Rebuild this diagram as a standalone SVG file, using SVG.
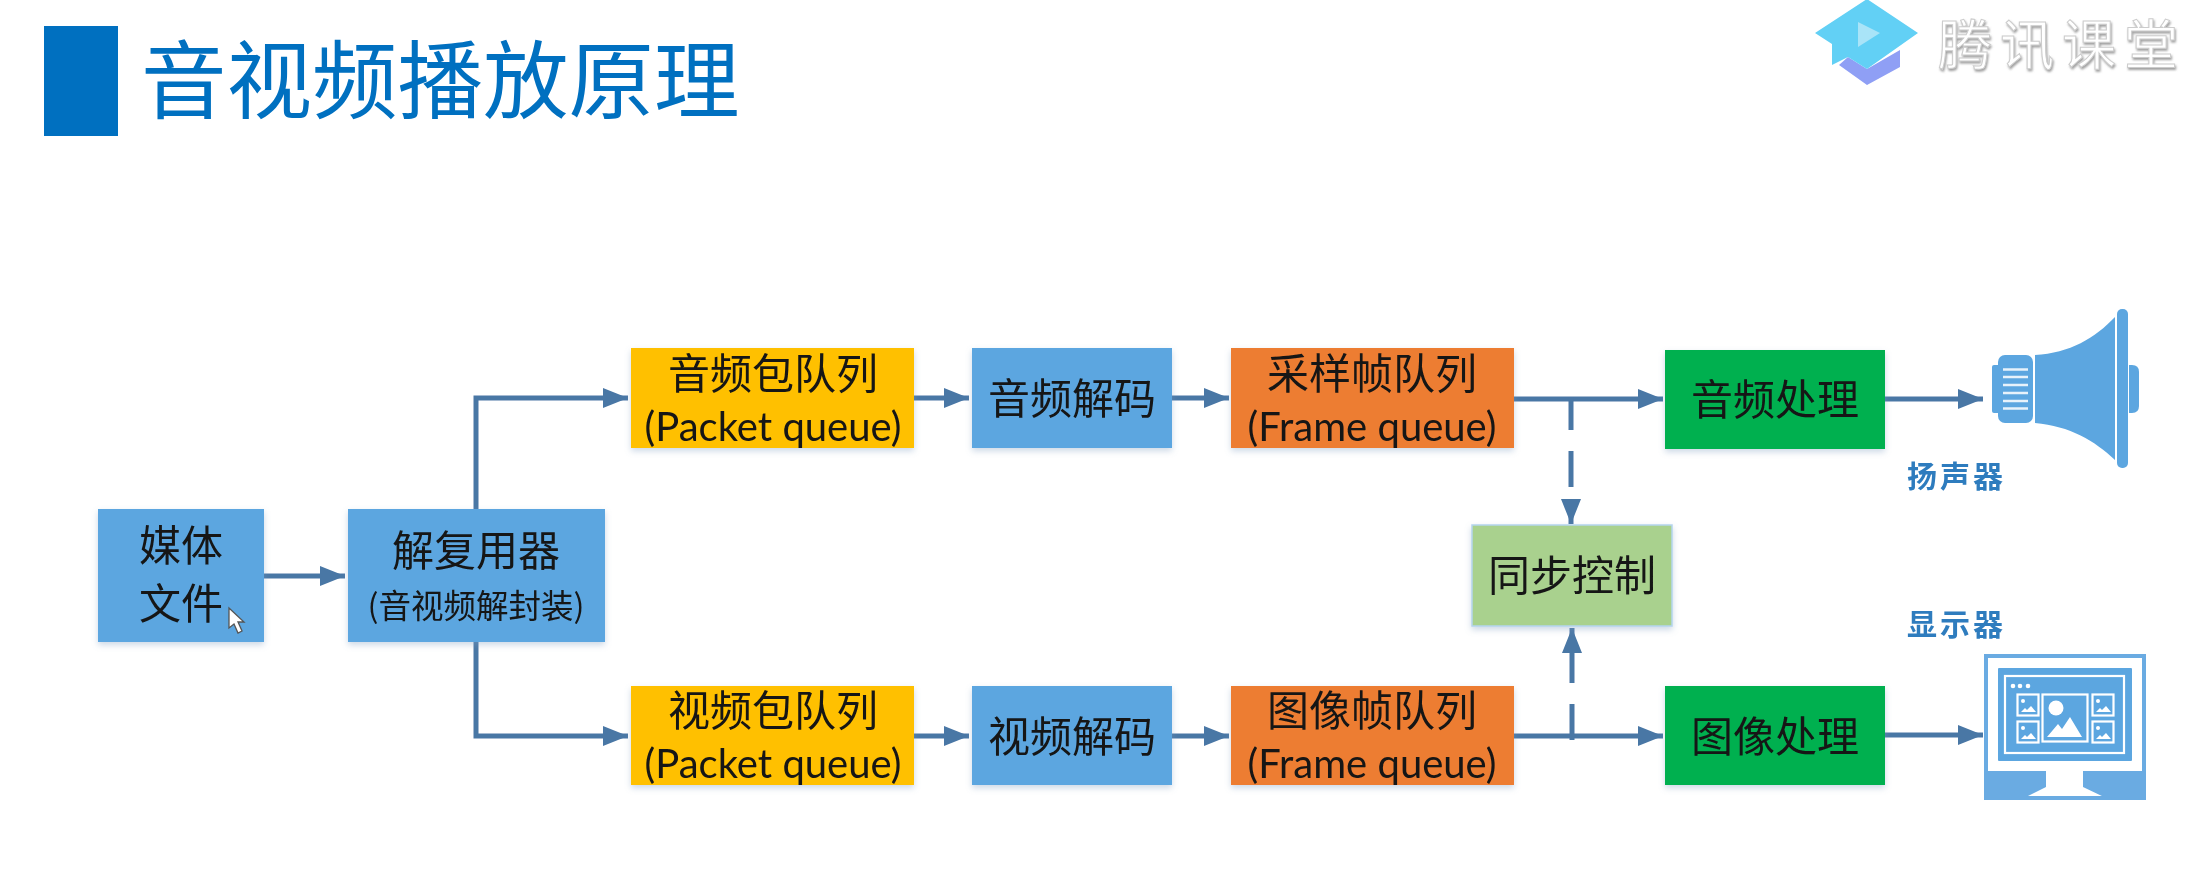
<svg xmlns="http://www.w3.org/2000/svg" width="2210" height="886" viewBox="0 0 2210 886">
<style>
.box{filter:url(#sh)}
.b{fill:#5CA6E0}.y{fill:#FFC000}.o{fill:#ED7D31}.g{fill:#00B050}.s{fill:#A9D18E;stroke:#B5D5EE;stroke-width:1.5}
.t{font-family:"Noto Sans CJK SC","Liberation Sans",sans-serif;font-size:42px;fill:#141414;text-anchor:middle;font-weight:400;filter:url(#soft)}
.p{font-family:Lato,"Liberation Sans",sans-serif;font-size:40px;fill:#141414;text-anchor:middle;filter:url(#soft)}
.sm{font-size:32.5px}
.lab{font-family:"Noto Sans CJK SC",sans-serif;font-size:30px;font-weight:700;fill:#2E7CBE;letter-spacing:3px;filter:url(#soft)}
.c{fill:none;stroke:#4A77A5;stroke-width:5}
.w{fill:none;stroke:#fff;stroke-width:2.2}
.i{fill:#5CA6E0}
</style>
<defs>
<filter id="sh" x="-10%" y="-10%" width="120%" height="125%"><feDropShadow dx="0" dy="3" stdDeviation="3" flood-color="#7f9fc0" flood-opacity=".4"/></filter>
<filter id="soft" x="-5%" y="-10%" width="110%" height="120%"><feGaussianBlur stdDeviation=".6"/></filter>
<filter id="ls" x="-5%" y="-5%" width="110%" height="115%"><feDropShadow dx="1" dy="2" stdDeviation="1.2" flood-color="#888" flood-opacity=".8"/></filter>
<marker id="a" markerUnits="userSpaceOnUse" markerWidth="26" markerHeight="20" refX="25" refY="10" orient="auto"><path d="M0 0L25 10L0 20Z" fill="#4A77A5"/></marker>
<g id="tile"><rect x=".5" y=".5" width="21" height="21" class="w"/><circle cx="6" cy="7" r="2" fill="#fff"/><path d="M4 18l4-4 2 2 4-4 5 6z" fill="#fff"/></g>
</defs>

<g id="title">
<rect x="44" y="26" width="74" height="110" fill="#0070C0"/>
<text x="141" y="112" font-family="Noto Sans CJK SC,sans-serif" font-size="85.5" fill="#0070C0" font-weight="400" filter="url(#soft)">音视频播放原理</text>
</g>

<g id="logo" filter="url(#soft)">
<path d="M1839 65L1848 57L1867 69L1900 50V67L1867 85Z" fill="#8F9FF5"/>
<path d="M1815 33L1867 -1L1918 33L1867 69L1848 57L1832 65V44Z" fill="#62D0F5"/>
<path d="M1858 22L1880 33L1858 47Z" fill="#A9E4F8"/>
<text x="1938" y="65" font-family="Noto Sans CJK SC,sans-serif" font-size="54" letter-spacing="8" fill="#fff" stroke="#ccc" stroke-width="1" filter="url(#ls)">腾讯课堂</text>
</g>

<g id="connectors" filter="url(#soft)">
<path class="c" d="M264 576H345" marker-end="url(#a)"/>
<path class="c" d="M476 509V398H628" marker-end="url(#a)"/>
<path class="c" d="M476 642V736H628" marker-end="url(#a)"/>
<path class="c" d="M913 398H969" marker-end="url(#a)"/>
<path class="c" d="M913 736H969" marker-end="url(#a)"/>
<path class="c" d="M1172 398H1229" marker-end="url(#a)"/>
<path class="c" d="M1172 736H1229" marker-end="url(#a)"/>
<path class="c" d="M1513 399H1663" marker-end="url(#a)"/>
<path class="c" d="M1513 736H1663" marker-end="url(#a)"/>
<path class="c" d="M1885 399H1983" marker-end="url(#a)"/>
<path class="c" d="M1885 735H1983" marker-end="url(#a)"/>
<path class="c" stroke-dasharray="33 21 36 12" d="M1571 397V524" marker-end="url(#a)"/>
<path class="c" stroke-dasharray="36 21 60" d="M1572 740V628" marker-end="url(#a)"/>
</g>

<g id="media-file"><rect class="box b" x="98" y="509" width="166" height="133"/>
<text class="t" x="181" y="561">媒体</text><text class="t" x="181" y="619">文件</text>
<path d="M229 608V628L234 624L238 633L242 631L238 622H244Z" fill="#fff" stroke="#555" stroke-width="1.3"/></g>
<g id="demuxer"><rect class="box b" x="348" y="509" width="257" height="133"/>
<text class="t" x="476" y="566">解复用器</text><text class="t sm" x="476" y="618">(音视频解封装)</text></g>
<g id="audio-packet"><rect class="box y" x="631" y="348" width="283" height="100"/>
<text class="t" x="773" y="389">音频包队列</text><text class="p" x="773" y="441">(Packet queue)</text></g>
<g id="audio-decode"><rect class="box b" x="972" y="348" width="200" height="100"/>
<text class="t" x="1072" y="414">音频解码</text></g>
<g id="sample-frame"><rect class="box o" x="1231" y="348" width="283" height="100"/>
<text class="t" x="1372" y="389">采样帧队列</text><text class="p" x="1372" y="441">(Frame queue)</text></g>
<g id="audio-proc"><rect class="box g" x="1665" y="350" width="220" height="99"/>
<text class="t" x="1775" y="415">音频处理</text></g>
<g id="sync"><rect class="box s" x="1472" y="525" width="200" height="101"/>
<text class="t" x="1572" y="591">同步控制</text></g>
<g id="video-packet"><rect class="box y" x="631" y="686" width="283" height="99"/>
<text class="t" x="773" y="726">视频包队列</text><text class="p" x="773" y="778">(Packet queue)</text></g>
<g id="video-decode"><rect class="box b" x="972" y="686" width="200" height="99"/>
<text class="t" x="1072" y="752">视频解码</text></g>
<g id="image-frame"><rect class="box o" x="1231" y="686" width="283" height="99"/>
<text class="t" x="1372" y="726">图像帧队列</text><text class="p" x="1372" y="778">(Frame queue)</text></g>
<g id="image-proc"><rect class="box g" x="1665" y="686" width="220" height="99"/>
<text class="t" x="1775" y="752">图像处理</text></g>

<g id="speaker">
<rect class="i" x="1992" y="365" width="8" height="48" rx="2"/>
<rect class="i" x="1998" y="355" width="35" height="68" rx="7"/>
<path class="i" d="M2035 355C2070 353 2095 338 2115 317V460C2095 441 2070 426 2035 423Z"/>
<rect class="i" x="2117" y="309" width="11" height="159" rx="5"/>
<path class="i" d="M2129 365H2132Q2139 365 2139 372V406Q2139 413 2132 413H2129Z"/>
<path d="M2003 369.5H2028M2003 377H2028M2003 385H2028M2003 393H2028M2003 401H2028M2003 408.5H2028" stroke="#fff" stroke-width="2.6" fill="none" opacity=".85"/>
<text class="lab" x="1907" y="487">扬声器</text>
</g>

<g id="monitor">
<text class="lab" x="1907" y="635">显示器</text>
<rect x="1986" y="656" width="158" height="142" fill="#fff" stroke="#6AABE2" stroke-width="4"/>
<rect class="i" x="1998" y="668" width="134" height="93" rx="1"/>
<rect class="w" x="2005" y="676" width="119" height="77"/>
<circle cx="2013" cy="686" r="2.3" fill="#fff"/><circle cx="2020" cy="686" r="2.3" fill="#fff"/><circle cx="2028" cy="686" r="2.3" fill="#fff"/>
<use href="#tile" x="2017" y="694"/><use href="#tile" x="2017" y="721"/><use href="#tile" x="2092" y="694"/><use href="#tile" x="2092" y="721"/>
<rect class="w" x="2042.5" y="694.5" width="45" height="47"/>
<circle cx="2056" cy="708" r="7.5" fill="#fff"/>
<path d="M2047 737L2058 724L2062 729L2070 717L2082 737Z" fill="#fff"/>
<path d="M1984 771H2046V787L2026 797V800H1984ZM2146 771H2083V787L2104 797V800H2146Z" fill="#6AABE2"/>
</g>
</svg>
